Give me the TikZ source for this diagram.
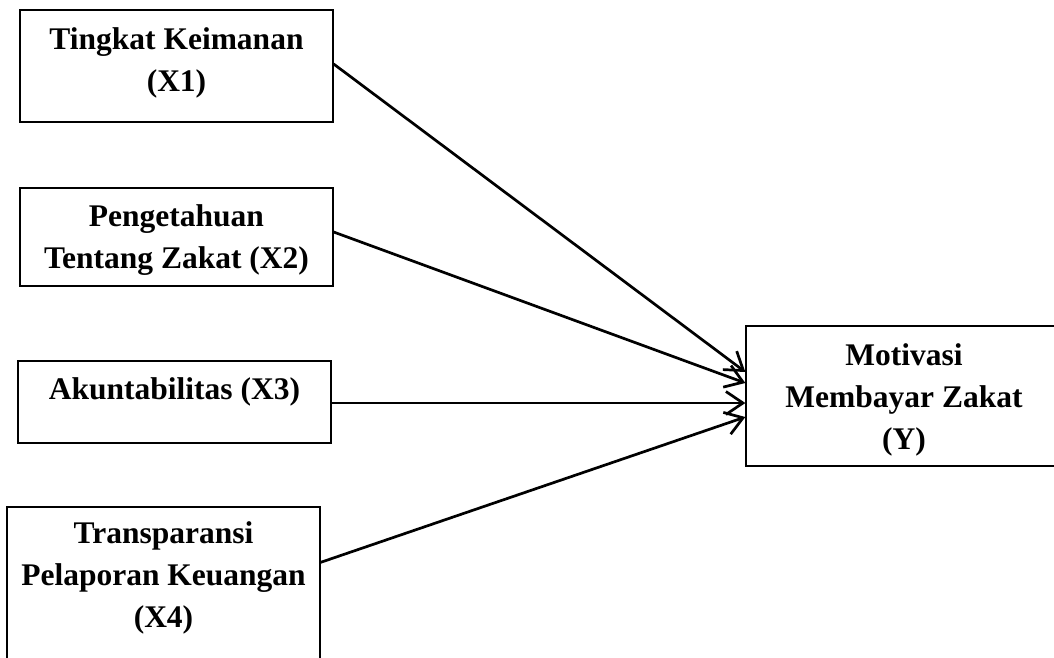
\documentclass[tikz,border=0pt]{standalone}
\usepackage{fontspec}
\setmainfont{Liberation Serif}
\usetikzlibrary{arrows.meta,positioning}

\begin{document}
\begin{tikzpicture}[x=1pt, y=-1pt,
    varbox/.style={draw, line width=1.3pt, inner sep=0pt, minimum width=313pt},
    lbl/.style={inner sep=0pt, align=center, font=\bfseries\fontsize{31.5}{42}\selectfont},
    arr/.style={line width=2.7pt, -{Straight Barb[length=17pt,width=23pt]}}]
    \useasboundingbox (0,0) rectangle (1054,657);
    \clip (0,0) rectangle (1054,657);
    % boxes of the variables
    \node[varbox, minimum height=112pt] (x1) at (176.5, 66) {};
    \node[varbox, minimum height=98pt] (x2) at (176.5, 237) {};
    \node[varbox, minimum height=82pt] (x3) at (174.5, 402) {};
    \node[varbox, minimum height=193pt] (x4) at (163.5, 603.5) {};
    \node[varbox, minimum width=336pt, minimum height=140pt] (y) at (914, 396) {};
    % texts
    \node[lbl, below=18pt of x1.north] (x1t) {Tingkat Keimanan\\(X1)};
    \node[lbl, below=17pt of x2.north] (x2t) {Pengetahuan\\Tentang Zakat (X2)};
    \node[lbl, below=17pt of x3.north] (x3t) {Akuntabilitas (X3)};
    \node[lbl, below=15pt of x4.north] (x4t) {Transparansi\\Pelaporan Keuangan\\(X4)};
    \node[lbl, below=18pt of y.north, xshift=-10pt] (yt) {Motivasi\\Membayar Zakat\\(Y)};
    % arrows
    \draw[arr] ([yshift=2pt]x1.east) -- ([yshift=24pt]y.west);
    \draw[arr] ([yshift=5pt]x2.east) -- ([yshift=13pt]y.west);
    \draw[arr] ([yshift=-1pt]x3.east) -- ([yshift=-7pt]y.west);
    \draw[arr] ([yshift=-56pt]x4.north east) -- ([yshift=-21pt]y.west);
\end{tikzpicture}
\end{document}
